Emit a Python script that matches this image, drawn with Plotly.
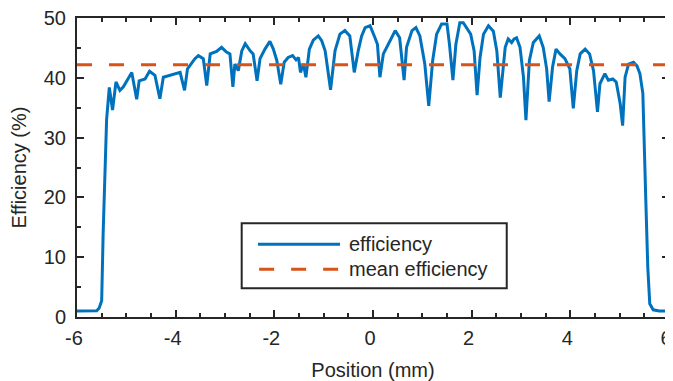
import plotly.graph_objects as go

# Efficiency profile
position_mm = [
    -6.00, -5.80, -5.60, -5.55, -5.50, -5.47, -5.43, -5.40, -5.345, -5.28,
    -5.21, -5.13, -5.06, -4.89, -4.79, -4.74, -4.62, -4.53, -4.42, -4.32,
    -4.25, -4.11, -3.91, -3.82, -3.76, -3.61, -3.54, -3.44, -3.37, -3.30,
    -3.17, -3.07, -2.97, -2.90, -2.84, -2.80, -2.73, -2.66, -2.59, -2.49,
    -2.43, -2.35, -2.29, -2.19, -2.09, -2.02, -1.95, -1.87, -1.80, -1.72,
    -1.63, -1.56, -1.51, -1.47, -1.41, -1.36, -1.29, -1.21, -1.11, -1.04,
    -0.97, -0.86, -0.77, -0.67, -0.57, -0.47, -0.38, -0.30, -0.23, -0.16,
    -0.06, 0.04, 0.09, 0.14, 0.21, 0.31, 0.45, 0.54, 0.63, 0.68,
    0.79, 0.87, 0.95, 1.05, 1.13, 1.21, 1.29, 1.39, 1.50, 1.55,
    1.62, 1.68, 1.76, 1.83, 1.90, 1.98, 2.05, 2.11, 2.17, 2.24,
    2.34, 2.44, 2.51, 2.58, 2.68, 2.74, 2.81, 2.86, 2.91, 2.98,
    3.05, 3.10, 3.17, 3.25, 3.37, 3.45, 3.52, 3.57, 3.64, 3.71,
    3.79, 3.89, 3.99, 4.06, 4.13, 4.20, 4.30, 4.39, 4.47, 4.55,
    4.60, 4.70, 4.77, 4.86, 4.93, 5.01, 5.06, 5.11, 5.18, 5.28,
    5.35, 5.41, 5.47, 5.50, 5.53, 5.57, 5.61, 5.68, 5.80, 6.00,
]
efficiency_pct = [
    1.0, 1.0, 1.05, 1.5, 2.7, 14.0, 25.0, 33.0, 38.4, 34.6,
    39.3, 37.9, 38.5, 40.9, 36.4, 39.5, 39.8, 41.1, 40.4, 36.5,
    40.1, 40.4, 40.9, 37.9, 41.5, 43.2, 43.7, 43.2, 38.7, 44.0,
    44.4, 45.1, 44.3, 44.0, 38.5, 42.3, 41.2, 44.5, 45.7, 44.5,
    44.0, 39.5, 43.2, 44.8, 46.1, 44.8, 42.9, 38.9, 42.6, 43.4,
    43.7, 43.0, 43.4, 40.9, 42.3, 40.1, 44.8, 46.3, 47.0, 46.2,
    44.5, 38.0, 44.5, 47.3, 47.9, 47.0, 40.9, 44.5, 47.0, 48.4,
    48.7, 46.7, 45.6, 40.1, 44.0, 45.6, 47.9, 46.7, 39.6, 45.1,
    47.9, 48.4, 47.0, 42.3, 35.3, 42.9, 47.3, 49.0, 49.0, 45.6,
    39.6, 45.6, 49.2, 49.2, 48.4, 47.3, 44.5, 37.1, 43.4, 47.3,
    48.7, 47.8, 44.5, 36.7, 45.1, 46.5, 45.9, 46.5, 46.7, 45.1,
    40.1, 32.9, 42.9, 45.9, 47.0, 45.1, 41.5, 36.0, 41.8, 44.8,
    44.0, 43.2, 41.5, 34.9, 41.2, 44.0, 44.8, 44.0, 41.2, 34.3,
    39.0, 40.7, 39.6, 39.8, 39.3, 35.7, 32.0, 40.1, 42.3, 42.6,
    42.0, 40.7, 37.4, 30.0, 19.5, 8.3, 2.2, 1.2, 1.0, 1.0,
]
mean_efficiency = 42.2
x_range = [-6, 6]
y_range = [0, 50]
x_tick_vals = [-6, -4, -2, 0, 2, 4, 6]
x_tick_text = ["-6", "-4", "-2", "0", "2", "4", "6"]
y_tick_vals = [0, 10, 20, 30, 40, 50]
series_names = ["efficiency", "mean efficiency"]

BLUE = "#0072BD"
ORANGE = "#D95319"
AX = "#262626"
FONT = "Liberation Sans, Arial, Helvetica, sans-serif"
DASH = "15px,17px"

fig = go.Figure()
fig.add_trace(go.Scatter(
    x=position_mm, y=efficiency_pct, mode="lines", name=series_names[0],
    line=dict(color=BLUE, width=3), showlegend=False,
))
fig.add_trace(go.Scatter(
    x=x_range, y=[mean_efficiency, mean_efficiency], mode="lines",
    name=series_names[1], showlegend=False,
    line=dict(color=ORANGE, width=3, dash=DASH),
))

axis_common = dict(
    showline=True, linecolor=AX, linewidth=2, mirror="ticks",
    ticks="inside", ticklen=7, tickwidth=2, tickcolor=AX,
    showgrid=False, zeroline=False, automargin=False,
    ticklabeloverflow="allow",
    tickfont=dict(family=FONT, size=20, color=AX),
)
fig.update_xaxes(
    range=x_range, tickvals=x_tick_vals, ticktext=x_tick_text,
    ticklabelstandoff=2, ticklabelshift=-3,
    minor=dict(dtick=0.5, ticks="inside", ticklen=4, tickwidth=2, tickcolor=AX),
    title=dict(text="Position (mm)", font=dict(family=FONT, size=20, color=AX), standoff=18),
    **axis_common,
)
fig.update_yaxes(
    range=y_range, tickvals=y_tick_vals,
    ticklabelstandoff=5,
    minor=dict(dtick=5, ticks="inside", ticklen=4, tickwidth=2, tickcolor=AX),
    title=dict(text="Efficiency (%)", font=dict(family=FONT, size=20, color=AX), standoff=14),
    **axis_common,
)

# Legend box drawn in MATLAB style (long line samples), placed in plot-area fractions
leg_x0, leg_x1, leg_y0, leg_y1 = 0.2782, 0.7259, 0.096, 0.3134
sample_x0, sample_x1 = 0.3057, 0.4443
text_x = 0.4554
row_y = [0.2431, 0.1595]
fig.add_shape(type="rect", xref="paper", yref="paper",
              x0=leg_x0, x1=leg_x1, y0=leg_y0, y1=leg_y1,
              line=dict(color=AX, width=2), fillcolor="white", layer="above")
fig.add_shape(type="line", xref="paper", yref="paper",
              x0=sample_x0, x1=sample_x1, y0=row_y[0], y1=row_y[0],
              line=dict(color=BLUE, width=3), layer="above")
fig.add_shape(type="line", xref="paper", yref="paper",
              x0=sample_x0 + 0.002, x1=sample_x1, y0=row_y[1], y1=row_y[1],
              line=dict(color=ORANGE, width=3, dash=DASH), layer="above")
for name, ry in zip(series_names, row_y):
    fig.add_annotation(xref="paper", yref="paper", x=text_x, y=ry,
                       xanchor="left", yanchor="middle", showarrow=False,
                       text=name, font=dict(family=FONT, size=20, color=AX))

# The page adds an 8px body margin, so the figure is sized to fit the window
fig.update_layout(
    width=665, height=373,
    margin=dict(l=69, r=4, t=10, b=64),
    plot_bgcolor="white", paper_bgcolor="white",
    showlegend=False,
)
fig.write_html("out.html")
